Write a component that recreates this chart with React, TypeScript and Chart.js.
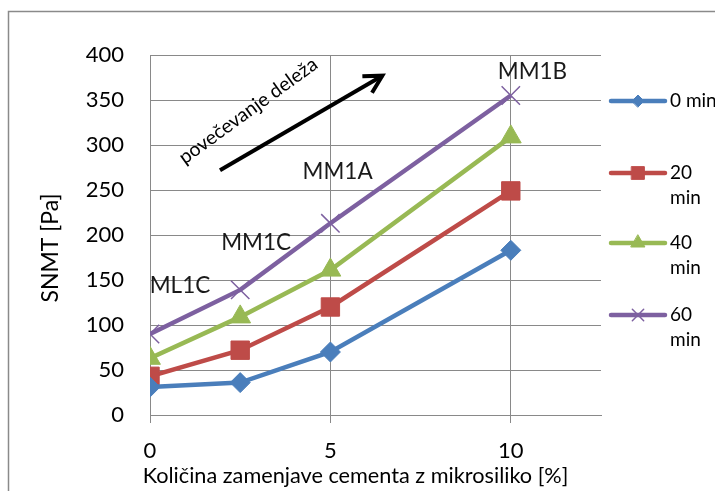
import React, { useEffect, useRef } from "react";
import { Chart, registerables } from "chart.js";
import { drawPoint } from "chart.js/helpers";

Chart.register(...registerables);

// ---- data ----
const xValues = [0, 2.5, 5, 10];
const series0min = [31, 36, 70, 183];
const series20min = [43, 72, 120, 249];
const series40min = [63, 109, 161, 309];
const series60min = [90, 139, 213, 355];
const seriesLabels = ["0 min", "20 min", "40 min", "60 min"];
const legendLines = [["0 min"], ["20", "min"], ["40", "min"], ["60", "min"]];
const xTickValues = [0, 5, 10];
const yTickValues = [0, 50, 100, 150, 200, 250, 300, 350, 400];
const mixLabels = ["ML1C", "MM1C", "MM1A", "MM1B"];
const mixLabelX = [0.83, 2.94, 5.2, 10.6];
const mixLabelY = [144, 191, 270, 381];
const trendText = "povečevanje deleža";
const trendTextPos = [2.72, 338];
const trendArrowFrom = [1.94, 272];
const trendArrowTo = [6.44, 377];
const xTitle = "Količina zamenjave cementa z mikrosiliko [%]";
const yTitle = "SNMT [Pa]";

const FONT = "Lato, 'Open Sans', sans-serif";
const GRID = "#898989";
const colors = ["#4a7ebb", "#be4b48", "#98b954", "#7d60a0"];
const pointStyles = ["rectRot", "rect", "triangle", "crossRot"];
const pointRadii = [10, 13, 12, 13];
const legendRadii = [6, 9, 8, 8];

const decorPlugin = {
  id: "decor",
  beforeDraw(chart: any) {
    const { ctx, width, height } = chart;
    ctx.save();
    ctx.fillStyle = "#ffffff";
    ctx.fillRect(0, 0, width, height);
    ctx.strokeStyle = "#8a8a8a";
    ctx.lineWidth = 1.5;
    ctx.beginPath();
    ctx.moveTo(8.5, height);
    ctx.lineTo(8.5, 11.5);
    ctx.lineTo(width, 11.5);
    ctx.stroke();
    ctx.restore();
  },
  afterDraw(chart: any) {
    const { ctx, chartArea, height } = chart;
    ctx.save();
    ctx.fillStyle = "#000";
    ctx.textAlign = "center";
    ctx.textBaseline = "middle";
    // y axis title
    ctx.save();
    ctx.translate(51, (chartArea.top + chartArea.bottom) / 2 + 13);
    ctx.rotate(-Math.PI / 2);
    ctx.font = `23px ${FONT}`;
    ctx.fillText(yTitle, 0, 0);
    ctx.restore();
    // x axis title
    ctx.font = `21.7px ${FONT}`;
    ctx.fillText(xTitle, (chartArea.left + chartArea.right) / 2 - 20, height - 15);
    ctx.restore();
  },
  afterDatasetsDraw(chart: any) {
    const { ctx, scales, chartArea } = chart;
    const xs = scales.x;
    const ys = scales.y;
    ctx.save();
    // mix labels
    ctx.fillStyle = "#1a1a1a";
    ctx.font = `22.5px ${FONT}`;
    ctx.textAlign = "center";
    ctx.textBaseline = "middle";
    mixLabels.forEach((t, i) => {
      ctx.fillText(t, xs.getPixelForValue(mixLabelX[i]), ys.getPixelForValue(mixLabelY[i]));
    });
    // arrow
    const x1 = xs.getPixelForValue(trendArrowFrom[0]);
    const y1 = ys.getPixelForValue(trendArrowFrom[1]);
    const x2 = xs.getPixelForValue(trendArrowTo[0]);
    const y2 = ys.getPixelForValue(trendArrowTo[1]);
    const ang = Math.atan2(y2 - y1, x2 - x1);
    ctx.strokeStyle = "#000";
    ctx.lineWidth = 4;
    ctx.lineCap = "butt";
    ctx.beginPath();
    ctx.moveTo(x1, y1);
    ctx.lineTo(x2, y2);
    ctx.stroke();
    const hl = 20;
    ctx.lineJoin = "miter";
    ctx.beginPath();
    ctx.moveTo(x2 - hl * Math.cos(ang - 0.5), y2 - hl * Math.sin(ang - 0.5));
    ctx.lineTo(x2, y2);
    ctx.lineTo(x2 - hl * Math.cos(ang + 0.5), y2 - hl * Math.sin(ang + 0.5));
    ctx.stroke();
    // rotated text
    ctx.save();
    ctx.translate(xs.getPixelForValue(trendTextPos[0]), ys.getPixelForValue(trendTextPos[1]));
    ctx.rotate((-36 * Math.PI) / 180);
    ctx.font = `19.5px ${FONT}`;
    ctx.fillStyle = "#000";
    ctx.fillText(trendText, 0, 0);
    ctx.restore();

    // legend
    const lx0 = chartArea.right + 10;
    const lx1 = chartArea.right + 64;
    const ly = [101, 173, 243, 315];
    chart.data.datasets.forEach((ds: any, i: number) => {
      const y = ly[i];
      ctx.strokeStyle = ds.borderColor;
      ctx.lineWidth = 4.5;
      ctx.lineCap = "round";
      ctx.beginPath();
      ctx.moveTo(lx0, y);
      ctx.lineTo(lx1, y);
      ctx.stroke();
      ctx.fillStyle = ds.pointBackgroundColor;
      ctx.strokeStyle = ds.pointBorderColor;
      ctx.lineWidth = ds.pointBorderWidth;
      drawPoint(ctx, { pointStyle: ds.pointStyle, radius: legendRadii[i], borderWidth: ds.pointBorderWidth, rotation: 0 }, (lx0 + lx1) / 2, y);
      ctx.fillStyle = "#000";
      ctx.font = `19px ${FONT}`;
      ctx.textAlign = "left";
      ctx.textBaseline = "middle";
      legendLines[i].forEach((line, k) => {
        ctx.fillText(line, lx1 + 5, y + k * 25);
      });
    });
    ctx.restore();
  },
};

export default function App() {
  const ref = useRef<HTMLCanvasElement | null>(null);
  useEffect(() => {
    if (!ref.current) return;
    const all = [series0min, series20min, series40min, series60min];
    const chart = new Chart(ref.current, {
      type: "line",
      data: {
        datasets: all.map((s, i) => ({
          label: seriesLabels[i],
          data: s.map((v, k) => ({ x: xValues[k], y: v })),
          borderColor: colors[i],
          backgroundColor: colors[i],
          pointBackgroundColor: colors[i],
          pointBorderColor: colors[i],
          pointBorderWidth: i === 3 ? 1.5 : 1,
          pointStyle: pointStyles[i] as any,
          pointRadius: pointRadii[i],
          borderWidth: 4.5,
          tension: 0,
          fill: false,
        })),
      },
      options: {
        animation: false,
        responsive: false,
        devicePixelRatio: 1,
        layout: { padding: { top: 55, right: 114, left: 0, bottom: 0 } },
        plugins: { legend: { display: false }, tooltip: { enabled: false } },
        scales: {
          x: {
            type: "linear",
            min: 0,
            max: 12.5,
            afterBuildTicks: (s: any) => {
              s.ticks = xTickValues.map((v) => ({ value: v }));
            },
            afterFit: (s: any) => {
              s.height = 76;
            },
            grid: { color: GRID, lineWidth: 1, drawTicks: true, tickLength: 8, tickColor: GRID },
            border: { display: true, color: GRID, width: 1 },
            ticks: { padding: 15, color: "#000", font: { family: FONT, size: 22 } },
            title: { display: false },
          },
          y: {
            min: 0,
            max: 400,
            afterBuildTicks: (s: any) => {
              s.ticks = yTickValues.map((v) => ({ value: v }));
            },
            afterFit: (s: any) => {
              s.width = 150;
            },
            grid: { color: GRID, lineWidth: 1, drawTicks: false },
            border: { display: true, color: GRID, width: 1 },
            ticks: { padding: 26, color: "#000", font: { family: FONT, size: 22 } },
            title: { display: false },
          },
        },
      },
      plugins: [decorPlugin],
    });
    return () => chart.destroy();
  }, []);
  return (
    <div style={{ position: "absolute", left: 0, top: 0, width: 715, height: 491 }}>
      <canvas ref={ref} width={715} height={491} style={{ width: 715, height: 491 }} />
    </div>
  );
}
